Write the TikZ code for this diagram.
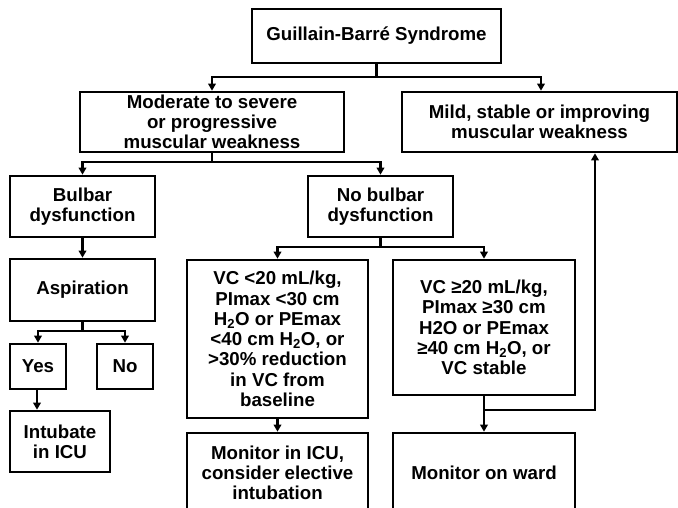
\documentclass[tikz,border=0pt]{standalone}
\usepackage{fontspec}
\setmainfont{Liberation Sans}
\usetikzlibrary{arrows.meta}
\begin{document}
\begin{tikzpicture}[x=1pt,y=-1pt,
  box/.style={draw, line width=2.6pt, align=center, inner sep=0pt,
    font=\bfseries\fontsize{18.7}{20.3}\selectfont},
  conn/.style={line width=2.2pt, -{Triangle[length=7pt,width=7.5pt]}},
  plain/.style={line width=2.2pt}]
\clip (0,0) rectangle (678,507);
\fill[white] (0,0) rectangle (678,507);
% boxes
\node[box, minimum width=249pt, minimum height=54pt] (top) at (376.5,36) {Guillain-Barré Syndrome};
\node[box, minimum width=264pt, minimum height=60pt] (mod) at (212,122) {Moderate to severe\\or progressive\\muscular weakness};
\node[box, minimum width=275pt, minimum height=60pt] (mild) at (539.5,122) {Mild, stable or improving\\muscular weakness};
\node[box, minimum width=145pt, minimum height=61pt] (bulbar) at (82.5,206.5) {Bulbar\\dysfunction};
\node[box, minimum width=145pt, minimum height=61pt] (nobulbar) at (380.5,206.5) {No bulbar\\dysfunction};
\node[box, minimum width=145pt, minimum height=62pt] (asp) at (82.5,290) {Aspiration};
\node[box, minimum width=56pt, minimum height=45pt] (yes) at (38,366.5) {Yes};
\node[box, minimum width=56pt, minimum height=45pt] (no) at (125,366.5) {No};
\node[box, minimum width=100pt, minimum height=61pt] (intub) at (60,441.5) {Intubate\\in ICU};
\node[box, minimum width=181pt, minimum height=158pt] (vcl) at (277.5,339) {VC <20 mL/kg,\\PImax <30 cm\\H\textsubscript{2}O or PEmax\\<40 cm H\textsubscript{2}O, or\\>30\% reduction\\in VC from\\baseline};
\node[box, minimum width=182pt, minimum height=135pt] (vcr) at (484,327.5) {VC ≥20 mL/kg,\\PImax ≥30 cm\\H2O or PEmax\\≥40 cm H\textsubscript{2}O, or\\VC stable};
\node[box, minimum width=181pt, minimum height=80pt] (micu) at (277.5,473) {Monitor in ICU,\\consider elective\\intubation};
\node[box, minimum width=182pt, minimum height=80pt] (ward) at (484,473) {Monitor on ward};
% connectors
\coordinate (c541) at (541,0);
\coordinate (c595) at (595,0);
\coordinate (c37) at (37,0);
\draw[conn] (top.south) -- ++(0,13) -| (mod.north);
\draw[conn] (top.south) -- ++(0,13) -| (mild.north -| c541);
\draw[conn] (mod.south) -- ++(0,9) -| (bulbar.north);
\draw[conn] (mod.south) -- ++(0,9) -| (nobulbar.north);
\draw[conn] (bulbar.south) -- (asp.north);
\draw[conn] (asp.south) -- ++(0,9) -| (yes.north);
\draw[conn] (asp.south) -- ++(0,9) -| (no.north);
\draw[conn] (yes.south -| c37) -- (intub.north -| c37);
\draw[conn] (nobulbar.south) -- ++(0,9) -| (vcl.north);
\draw[conn] (nobulbar.south) -- ++(0,9) -| (vcr.north);
\draw[conn] (vcl.south) -- (micu.north);
\draw[conn] (vcr.south) -- (ward.north);
\draw[conn] (vcr.south) -- ++(0,14) -| (mild.south -| c595);
\end{tikzpicture}
\end{document}
